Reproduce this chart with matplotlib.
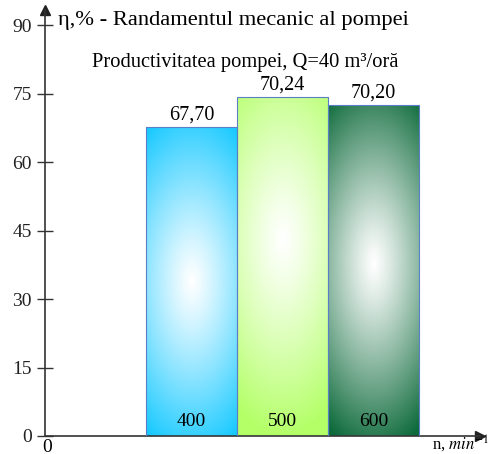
import numpy as np
import matplotlib
matplotlib.use("Agg")
import matplotlib.pyplot as plt
from matplotlib.colors import to_rgb

# data
speeds = ["400", "500", "600"]          # n, min^-1
bar_heights = [67.7, 74.2, 72.5]        # drawn bar heights
value_labels = ["67,70", "70,24", "70,20"]
yticks = [0, 15, 30, 45, 60, 75, 90]

title = "η,% - Randamentul mecanic al pompei"
subtitle = "Productivitatea pompei, Q=40 m³/oră"

# styling
edge_cols = ["#14c8ff", "#b4ff68", "#0d6a3b"]
centre_y = [0.50, 0.58, 0.52]
serif = "Liberation Serif"
plt.rcParams["font.family"] = serif
plt.rcParams["mathtext.fontset"] = "stix"


def gradient(edge, cy, rx=0.95, ry=0.58, p=1.15, n=300):
    u, v = np.meshgrid(np.linspace(0, 1, 100), np.linspace(0, 1, n))
    d = np.sqrt(((u - 0.5) / rx) ** 2 + ((v - cy) / ry) ** 2)
    t = np.clip(d, 0, 1)[..., None] ** p
    white = np.ones(3)
    return white * (1 - t) + np.array(to_rgb(edge)) * t


fig = plt.figure(figsize=(4.94, 4.54), dpi=100)
ax = fig.add_axes([45 / 494, 18 / 454, 435 / 494, 426 / 454])
ax.patch.set_alpha(0)

x = np.arange(len(speeds))
bars = ax.bar(x, bar_heights, width=1.0, color="none",
              edgecolor="#5a7fc8", linewidth=0.8, zorder=3)
for b, col, cy in zip(bars, edge_cols, centre_y):
    x0, w, h = b.get_x(), b.get_width(), b.get_height()
    im = ax.imshow(gradient(col, cy), origin="lower", aspect="auto",
                   extent=(x0, x0 + w, 0, h), zorder=2)
    im.set_clip_path(b)

for xi, h, lab in zip(x, bar_heights, value_labels):
    ax.annotate(lab, (xi, h), xytext=(0, 2), textcoords="offset points",
                ha="center", va="bottom", fontsize=14.5)
for xi, s in zip(x, speeds):
    ax.text(xi, 3.2, s, ha="center", va="center", fontsize=14, zorder=4)

ax.set_xlim(-1.61, 3.17)
ax.set_ylim(0, 93.3)

for s in ["top", "right"]:
    ax.spines[s].set_visible(False)
ax.spines["left"].set_color("#333333")
ax.spines["bottom"].set_color("#333333")
ax.spines["left"].set_linewidth(1.2)
ax.spines["bottom"].set_linewidth(1.2)

ax.set_yticks(yticks)
ax.set_yticklabels([str(t) for t in yticks], fontsize=14, color="#222222")
ax.tick_params(axis="y", direction="inout", length=11, width=1.0,
               pad=4, color="#333333")
ax.set_xticks([])

# arrow heads
ax.plot(0, 1, marker="^", color="#222222", markersize=7,
        transform=ax.transAxes, clip_on=False)
ax.plot(1, 0, marker=">", color="#222222", markersize=7,
        transform=ax.transAxes, clip_on=False)

fig.text(47 / 494, 1 - 447 / 454, "0", fontsize=14, ha="center", va="center")
fig.text(489 / 494, 1 - 449 / 454, r"n, $\mathit{min}^{-1}$", fontsize=12,
         ha="right", va="baseline")
fig.text(58 / 494, 1 - 20 / 454, title, fontsize=16.2, ha="left", va="center")
fig.text(92 / 494, 1 - 62 / 454, subtitle, fontsize=14.8, ha="left", va="center")

fig.savefig("out.png", dpi=100)
